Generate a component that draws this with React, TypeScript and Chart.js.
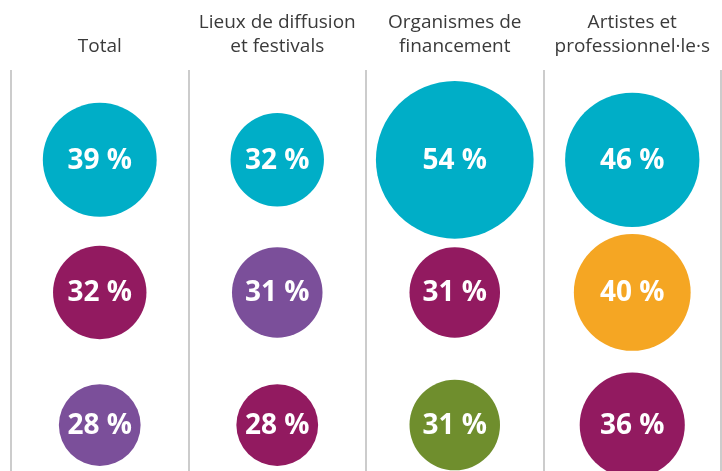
import React, { useEffect, useRef } from "react";
import { Chart, registerables } from "chart.js";

Chart.register(...registerables);

// Column headers (one line per entry)
const categories: string[][] = [
  ["Total"],
  ["Lieux de diffusion", "et festivals"],
  ["Organismes de", "financement"],
  ["Artistes et", "professionnel·le·s"],
];

// Three rows of bubbles, values in %
const row1Values = [39, 32, 54, 46];
const row2Values = [32, 31, 31, 40];
const row3Values = [28, 28, 31, 36];

const TEAL = "#00aec7";
const MAGENTA = "#921a60";
const PURPLE = "#7b4f9a";
const ORANGE = "#f5a623";
const GREEN = "#6f8e2d";

const row1Colors = [TEAL, TEAL, TEAL, TEAL];
const row2Colors = [MAGENTA, PURPLE, MAGENTA, ORANGE];
const row3Colors = [PURPLE, MAGENTA, GREEN, MAGENTA];

const rows = [
  { values: row1Values, colors: row1Colors },
  { values: row2Values, colors: row2Colors },
  { values: row3Values, colors: row3Colors },
];

const RADIUS_PER_PERCENT = 1.46;

const bubbleLabels = {
  id: "bubbleLabels",
  afterDatasetsDraw(chart: any) {
    const ctx = chart.ctx;
    ctx.save();
    ctx.fillStyle = "#ffffff";
    ctx.font = "bold 28px 'Open Sans', 'Noto Sans', sans-serif";
    ctx.textAlign = "center";
    ctx.textBaseline = "middle";
    chart.data.datasets.forEach((ds: any, di: number) => {
      const meta = chart.getDatasetMeta(di);
      meta.data.forEach((el: any, i: number) => {
        const v = ds.data[i].v;
        ctx.fillText(`${v} %`, el.x, el.y + 1);
      });
    });
    ctx.restore();
  },
};

export default function App() {
  const ref = useRef<HTMLCanvasElement>(null);

  useEffect(() => {
    if (!ref.current) return;
    const datasets = rows.map((row, ri) => ({
      data: row.values.map((v, ci) => ({ x: ci, y: ri, r: v * RADIUS_PER_PERCENT, v })),
      backgroundColor: row.colors,
      borderWidth: 0,
      hoverBorderWidth: 0,
    }));
    const chart = new Chart(ref.current, {
      type: "bubble",
      data: {
        labels: categories.map((c) => c.join(" ")),
        datasets,
      },
      options: {
        animation: false,
        responsive: true,
        maintainAspectRatio: false,
        layout: { autoPadding: false, padding: { top: 0, left: 11, right: 1, bottom: 0 } },
        plugins: {
          legend: { display: false },
          tooltip: { enabled: false },
        },
        events: [],
        scales: {
          x: {
            type: "category",
            position: "top",
            offset: true,
            grid: {
              offset: true,
              color: "#cccccc",
              lineWidth: 2,
              drawTicks: false,
            },
            border: { display: false },
            ticks: {
              padding: 11,
              maxRotation: 0,
              autoSkip: false,
              color: "#3a3a3a",
              font: { family: "'Open Sans', 'Noto Sans', sans-serif", size: 19, lineHeight: 1.263 },
              callback: (_v: any, i: number) => categories[i],
            },
          },
          y: {
            type: "linear",
            display: false,
            reverse: true,
            min: -0.677,
            max: 2.346,
          },
        },
      } as any,
      plugins: [bubbleLabels],
    });
    return () => chart.destroy();
  }, []);

  return (
    <div style={{ position: "absolute", left: 0, top: 0, width: 722, height: 471, background: "#fff" }}>
      <canvas ref={ref} />
    </div>
  );
}
